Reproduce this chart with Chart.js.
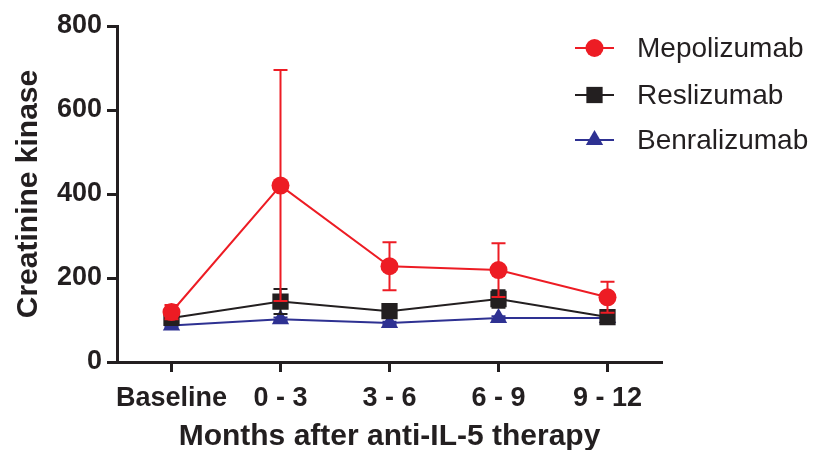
<!DOCTYPE html>
<html>
<head>
<meta charset="utf-8">
<title>Creatinine kinase</title>
<script src="https://cdn.jsdelivr.net/npm/chart.js@4"></script>
<style>
  html, body { margin: 0; padding: 0; background: #fff; }
  #wrap { width: 816px; height: 450px; }
</style>
</head>
<body>
<div id="wrap"><canvas id="myChart" width="816" height="450"></canvas></div>
<script>
// data
const categories = ['Baseline', '0 - 3', '3 - 6', '6 - 9', '9 - 12'];
const seriesNames = ['Mepolizumab', 'Reslizumab', 'Benralizumab'];
const mepolizumab = [119, 420, 228, 219, 154];
const mepolizumabErr = [17, 275, 57, 64, 37];
const reslizumab = [105, 144, 121, 150, 107];
const reslizumabErr = [6, 30, 6, 21, 6];
const benralizumab = [87, 102, 93, 105, 105];
const benralizumabErr = [3, 4, 3, 4, 3];
const yTicks = [0, 200, 400, 600, 800];

const RED = '#ED1C24';
const BLACK = '#231F20';
const BLUE = '#2E3192';
const FONT = '"Liberation Sans", Arial, sans-serif';

const errors = [mepolizumabErr, reslizumabErr, benralizumabErr];

// error bars, drawn before each dataset so markers sit on top
const errorBars = {
    id: 'errorBars',
    beforeDatasetDraw(chart, args) {
        const i = args.index;
        const ds = chart.data.datasets[i];
        const err = errors[i];
        const y = chart.scales.y;
        const ctx = chart.ctx;
        ctx.save();
        ctx.strokeStyle = ds.borderColor;
        ctx.lineWidth = 2;
        args.meta.data.forEach((pt, j) => {
            const v = ds.data[j];
            const top = y.getPixelForValue(v + err[j]);
            const bot = y.getPixelForValue(v - err[j]);
            const x = pt.x;
            ctx.beginPath();
            ctx.moveTo(x, top); ctx.lineTo(x, bot);
            ctx.moveTo(x - 7, top); ctx.lineTo(x + 7, top);
            ctx.moveTo(x - 7, bot); ctx.lineTo(x + 7, bot);
            ctx.stroke();
        });
        ctx.restore();
    }
};

// legend: line with marker, then name
const sideLegend = {
    id: 'sideLegend',
    afterDraw(chart) {
        const ctx = chart.ctx;
        const rows = [48, 95, 140];
        ctx.save();
        chart.data.datasets.forEach((ds, i) => {
            const yy = rows[i];
            ctx.strokeStyle = ds.borderColor;
            ctx.fillStyle = ds.borderColor;
            ctx.lineWidth = 2;
            ctx.beginPath();
            ctx.moveTo(575, yy); ctx.lineTo(614, yy);
            ctx.stroke();
            Chart.helpers.drawPoint(ctx, {
                pointStyle: ds.pointStyle,
                radius: ds.pointRadius,
                borderWidth: 0
            }, 594.5, yy);
            ctx.fillStyle = BLACK;
            ctx.font = '28px ' + FONT;
            ctx.textBaseline = 'middle';
            ctx.fillText(ds.label, 637, yy + 1);
        });
        ctx.restore();
    }
};

function makeSet(label, data, color, style, radius) {
    return {
        label: label,
        data: data,
        borderColor: color,
        backgroundColor: color,
        pointBackgroundColor: color,
        pointBorderWidth: 0,
        pointStyle: style,
        pointRadius: radius,
        pointHoverRadius: radius,
        borderWidth: 2,
        tension: 0,
        fill: false
    };
}

const ctx = document.getElementById('myChart').getContext('2d');
new Chart(ctx, {
    type: 'line',
    data: {
        labels: categories,
        datasets: [
            makeSet(seriesNames[0], mepolizumab, RED, 'circle', 9),
            makeSet(seriesNames[1], reslizumab, BLACK, 'rect', 11.5),
            makeSet(seriesNames[2], benralizumab, BLUE, 'triangle', 10)
        ]
    },
    options: {
        responsive: false,
        animation: false,
        layout: { padding: { top: 26, right: 154, bottom: 0, left: 0 } },
        plugins: {
            legend: { display: false },
            tooltip: { enabled: false }
        },
        scales: {
            x: {
                offset: true,
                grid: {
                    offset: false,
                    drawOnChartArea: false,
                    drawTicks: true,
                    tickLength: 10,
                    tickWidth: 3,
                    tickColor: BLACK
                },
                border: { display: true, color: BLACK, width: 3 },
                ticks: {
                    color: BLACK,
                    padding: 10,
                    autoSkip: false,
                    maxRotation: 0,
                    font: { family: FONT, size: 27, weight: 'bold' }
                },
                title: {
                    display: true,
                    text: 'Months after anti-IL-5 therapy',
                    color: BLACK,
                    padding: { top: 7, bottom: -5 },
                    font: { family: FONT, size: 30, weight: 'bold' }
                },
                afterFit(s) { s.height = 88; }
            },
            y: {
                min: 0,
                max: 800,
                afterBuildTicks(s) { s.ticks = yTicks.map(v => ({ value: v })); },
                grid: {
                    drawOnChartArea: false,
                    drawTicks: true,
                    tickLength: 10,
                    tickWidth: 3,
                    tickColor: BLACK
                },
                border: { display: true, color: BLACK, width: 3 },
                ticks: {
                    color: BLACK,
                    padding: 5,
                    font: { family: FONT, size: 27, weight: 'bold' }
                },
                title: {
                    display: true,
                    text: 'Creatinine kinase',
                    color: BLACK,
                    padding: { top: 11, bottom: 4 },
                    font: { family: FONT, size: 30, weight: 'bold' }
                },
                afterFit(s) { s.width = 117; }
            }
        }
    },
    plugins: [errorBars, sideLegend]
});
</script>
</body>
</html>
